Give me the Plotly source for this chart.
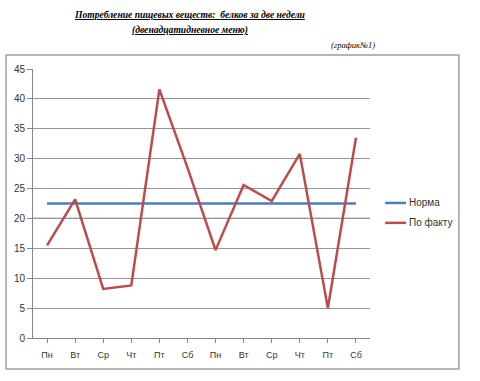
import plotly.graph_objects as go

days = ["Пн", "Вт", "Ср", "Чт", "Пт", "Сб", "Пн", "Вт", "Ср", "Чт", "Пт", "Сб"]
norma = [22.5] * 12
fact = [15.5, 23.2, 8.2, 8.8, 41.6, 28.5, 14.7, 25.6, 22.9, 30.8, 5.0, 33.5]
series_names = ["Норма", "По факту"]
series_colors = ["#4a7ebb", "#be4b48"]

x = list(range(12))

fig = go.Figure()
fig.add_trace(go.Scatter(x=x, y=norma, mode="lines", name=series_names[0],
                         line=dict(color=series_colors[0], width=2.5)))
fig.add_trace(go.Scatter(x=x, y=fact, mode="lines", name=series_names[1],
                         line=dict(color=series_colors[1], width=2.5)))

fig.update_layout(
    width=480, height=381,
    margin=dict(l=33, r=110, t=69, b=43),
    paper_bgcolor="white", plot_bgcolor="white",
    font=dict(family="Liberation Sans", size=10, color="#404040"),
    showlegend=False,
    xaxis=dict(range=[-0.5, 11.5], tickmode="array", tickvals=x, ticktext=days,
               showgrid=False, showline=True, linecolor="#868686", linewidth=1,
               ticks="outside", ticklen=4, tickcolor="#868686",
               tickson="boundaries", zeroline=False, ticklabelstandoff=4,
               tickfont=dict(size=9, color="#333")),
    yaxis=dict(range=[0, 45], dtick=5, showgrid=True, gridcolor="#969696",
               gridwidth=1, showline=True, linecolor="#868686", linewidth=1,
               ticks="outside", ticklen=5, tickcolor="#868686", zeroline=False,
               tickfont=dict(size=10, color="#333")),
)

# slightly darker gridline at 20 (as in the reference)
fig.add_hline(y=20, line=dict(color="#707070", width=1.3), layer="below")

# outer chart frame
fig.add_shape(type="rect", xref="paper", yref="paper",
              x0=-0.080, x1=1.264, y0=-0.115, y1=1.052,
              line=dict(color="#a0a0a0", width=1.5), layer="below")

# legend drawn manually
leg_y = [0.502, 0.428]
for name, col, ly in zip(series_names, series_colors, leg_y):
    fig.add_shape(type="line", xref="paper", yref="paper",
                  x0=1.045, x1=1.107, y0=ly, y1=ly,
                  line=dict(color=col, width=2.5))
    fig.add_annotation(xref="paper", yref="paper", x=1.110, y=ly,
                       xanchor="left", yanchor="middle", text=name,
                       showarrow=False, font=dict(size=10, color="#333"))

fig.add_annotation(xref="paper", yref="paper", x=0.466, y=1.23,
                   text="<b><i><u>Потребление пищевых веществ:  белков за две недели</u></i></b>",
                   showarrow=False, font=dict(family="Liberation Serif", size=9.6, color="black"))
fig.add_annotation(xref="paper", yref="paper", x=0.466, y=1.175,
                   text="<b><i><u>(двенадцатидневное меню)</u></i></b>",
                   showarrow=False, font=dict(family="Liberation Serif", size=9.6, color="black"))
fig.add_annotation(xref="paper", yref="paper", x=0.878, y=1.115, xanchor="left",
                   text="<i>(график№1)</i>",
                   showarrow=False, font=dict(family="Liberation Serif", size=8.5, color="black"))

fig.write_html("out.html", config={"displayModeBar": False},
               post_script="document.body.style.margin='0';")
